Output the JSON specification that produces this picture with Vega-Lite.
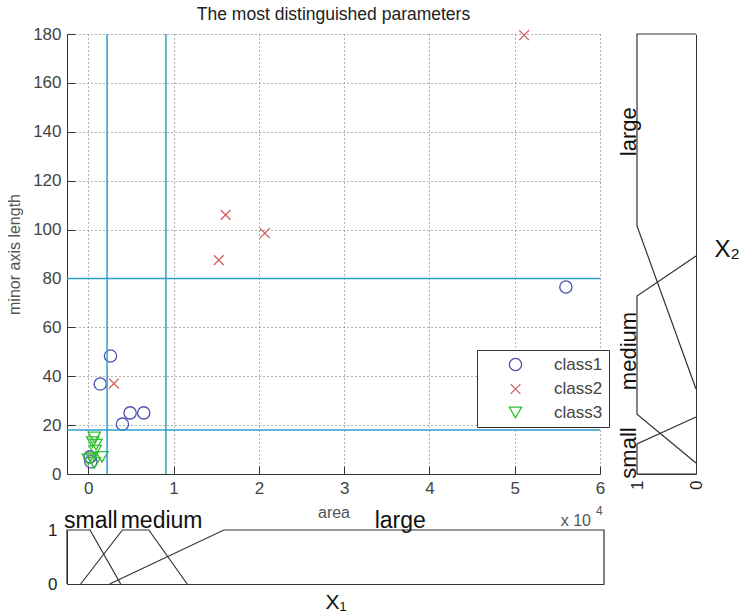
{
  "$schema": "https://vega.github.io/schema/vega-lite/v6.json",
  "padding": {"left": 6, "top": 5, "right": 0, "bottom": 0},
  "background": "white",
  "config": {
    "font": "Liberation Sans",
    "view": {"stroke": null},
    "axis": {"labelFont": "Liberation Sans", "titleFont": "Liberation Sans"}
  },
  "datasets": {
    "points": [
      {"area": 0.26, "minor": 48.3, "class": "class1"},
      {"area": 0.14, "minor": 36.8, "class": "class1"},
      {"area": 0.40, "minor": 20.4, "class": "class1"},
      {"area": 0.49, "minor": 25, "class": "class1"},
      {"area": 0.65, "minor": 25, "class": "class1"},
      {"area": 5.60, "minor": 76.5, "class": "class1"},
      {"area": 0.02, "minor": 7, "class": "class1"},
      {"area": 0.03, "minor": 5, "class": "class1"},
      {"area": 5.11, "minor": 179.5, "class": "class2"},
      {"area": 1.61, "minor": 106, "class": "class2"},
      {"area": 2.07, "minor": 98.5, "class": "class2"},
      {"area": 1.53, "minor": 87.5, "class": "class2"},
      {"area": 0.30, "minor": 37, "class": "class2"},
      {"area": 0.07, "minor": 15, "class": "class3"},
      {"area": 0.05, "minor": 13, "class": "class3"},
      {"area": 0.09, "minor": 12, "class": "class3"},
      {"area": 0.08, "minor": 9.5, "class": "class3"},
      {"area": 0.04, "minor": 6.5, "class": "class3"},
      {"area": 0.16, "minor": 7, "class": "class3"},
      {"area": 0.07, "minor": 4.5, "class": "class3"},
      {"area": 0.0, "minor": 6, "class": "class3"}
    ],
    "vlines": [{"area": 0.22}, {"area": 0.91}],
    "hlines": [{"minor": 80}, {"minor": 18}],
    "x1": [
      {"set": "small", "i": 0, "a": -0.25, "m": 0},
      {"set": "small", "i": 1, "a": -0.25, "m": 1},
      {"set": "small", "i": 2, "a": 0.02, "m": 1},
      {"set": "small", "i": 3, "a": 0.38, "m": 0},
      {"set": "medium", "i": 0, "a": -0.09, "m": 0},
      {"set": "medium", "i": 1, "a": 0.40, "m": 1},
      {"set": "medium", "i": 2, "a": 0.71, "m": 1},
      {"set": "medium", "i": 3, "a": 1.16, "m": 0},
      {"set": "large", "i": 0, "a": 0.25, "m": 0},
      {"set": "large", "i": 1, "a": 1.59, "m": 1},
      {"set": "large", "i": 2, "a": 6.05, "m": 1},
      {"set": "large", "i": 3, "a": 6.05, "m": 0}
    ],
    "x1labels": [
      {"label": "small", "a": 0.03},
      {"label": "medium", "a": 0.86},
      {"label": "large", "a": 3.66}
    ],
    "x2": [
      {"set": "small", "i": 0, "m": 0, "v": 0},
      {"set": "small", "i": 1, "m": 1, "v": 0},
      {"set": "small", "i": 2, "m": 1, "v": 12.3},
      {"set": "small", "i": 3, "m": 0, "v": 23.3},
      {"set": "medium", "i": 0, "m": 0, "v": 4.5},
      {"set": "medium", "i": 1, "m": 1, "v": 24.5},
      {"set": "medium", "i": 2, "m": 1, "v": 72.8},
      {"set": "medium", "i": 3, "m": 0, "v": 89.2},
      {"set": "large", "i": 0, "m": 0, "v": 34.8},
      {"set": "large", "i": 1, "m": 1, "v": 101.5},
      {"set": "large", "i": 2, "m": 1, "v": 180},
      {"set": "large", "i": 3, "m": 0, "v": 180}
    ],
    "x2labels": [
      {"label": "small", "v": 8.6},
      {"label": "medium", "v": 50.3},
      {"label": "large", "v": 140}
    ]
  },
  "columns": 2,
  "align": "each",
  "bounds": "flush",
  "spacing": {"row": 56, "column": 33},
  "concat": [
    {
      "width": 533,
      "height": 440,
      "title": {"text": "The most distinguished parameters", "fontSize": 17.5, "fontWeight": "normal", "color": "#222", "offset": -12, "baseline": "alphabetic"},
      "layer": [
        {
          "data": {"name": "points"},
          "mark": {"type": "point", "filled": false, "strokeWidth": 1.3, "size": 150, "opacity": 1},
          "encoding": {
            "x": {"field": "area", "type": "quantitative",
              "scale": {"domain": [-0.25, 6], "nice": false, "zero": false},
              "axis": {"values": [0, 1, 2, 3, 4, 5, 6], "format": "d", "grid": true, "gridDash": [1, 3], "gridColor": "#666", "gridOpacity": 1,
                "domainColor": "#333", "tickColor": "#333", "tickSize": -8, "labelPadding": 14.5, "labelFlush": false,
                "labelFontSize": 17, "labelColor": "#444", "title": "area", "titleFontSize": 16, "titleColor": "#555",
                "titleFontWeight": "normal", "titlePadding": 8}},
            "y": {"field": "minor", "type": "quantitative",
              "scale": {"domain": [0, 180], "nice": false, "zero": false},
              "axis": {"values": [0, 20, 40, 60, 80, 100, 120, 140, 160, 180], "format": "d", "grid": true, "gridDash": [1, 3], "gridColor": "#666", "gridOpacity": 1,
                "domainColor": "#333", "tickColor": "#333", "tickSize": -8, "labelPadding": 14,
                "labelFontSize": 17, "labelColor": "#444", "title": "minor axis length", "titleFontSize": 16, "titleColor": "#555",
                "titleFontWeight": "normal", "titlePadding": 10}},
            "color": {"field": "class", "type": "nominal",
              "scale": {"domain": ["class1", "class2", "class3"], "range": ["#5050b0", "#d06060", "#30c030"]},
              "legend": {"orient": "none", "legendX": 410, "legendY": 316, "title": null, "strokeColor": "#333", "fillColor": "white",
                "padding": 6, "symbolOffset": 24, "labelOffset": 30, "rowPadding": 5.5, "symbolSize": 150, "symbolStrokeWidth": 1.3,
                "labelFontSize": 17, "labelColor": "#444"}},
            "shape": {"field": "class", "type": "nominal",
              "scale": {"domain": ["class1", "class2", "class3"], "range": ["circle", "M-0.8,-0.8L0.8,0.8M-0.8,0.8L0.8,-0.8", "triangle-down"]},
              "legend": {"orient": "none", "legendX": 410, "legendY": 316, "title": null, "strokeColor": "#333", "fillColor": "white",
                "padding": 6, "symbolOffset": 24, "labelOffset": 30, "rowPadding": 5.5, "symbolSize": 150, "symbolStrokeWidth": 1.3,
                "labelFontSize": 17, "labelColor": "#444"}}
          }
        },
        {
          "data": {"name": "vlines"},
          "mark": {"type": "rule", "color": "#2a9fd0", "strokeWidth": 1.5},
          "encoding": {"x": {"field": "area", "type": "quantitative"}}
        },
        {
          "data": {"name": "hlines"},
          "mark": {"type": "rule", "color": "#2a9fd0", "strokeWidth": 1.5},
          "encoding": {"y": {"field": "minor", "type": "quantitative"}}
        },
        {
          "data": {"values": [{"t": "x 10"}]},
          "mark": {"type": "text", "align": "right", "baseline": "alphabetic", "dx": -9, "dy": 52, "fontSize": 16, "color": "#555"},
          "encoding": {"x": {"datum": 6}, "y": {"datum": 0}, "text": {"field": "t"}}
        },
        {
          "data": {"values": [{"t": "4"}]},
          "mark": {"type": "text", "align": "left", "baseline": "alphabetic", "dx": -4, "dy": 41, "fontSize": 12, "color": "#555"},
          "encoding": {"x": {"datum": 6}, "y": {"datum": 0}, "text": {"field": "t"}}
        }
      ]
    },
    {
      "width": 59,
      "height": 440,
      "layer": [
        {
          "data": {"name": "x2"},
          "mark": {"type": "line", "color": "#333", "strokeWidth": 1.2},
          "encoding": {
            "x": {"field": "m", "type": "quantitative", "scale": {"domain": [0, 1], "reverse": true, "nice": false},
              "axis": {"values": [0, 1], "format": "d", "ticks": false, "grid": false, "domainColor": "#333", "labelAngle": 270, "labelFontSize": 17,
                "labelColor": "#222", "labelFlush": false, "labelPadding": 6, "title": null}},
            "y": {"field": "v", "type": "quantitative", "scale": {"domain": [0, 180], "nice": false},
              "axis": {"orient": "right", "ticks": false, "labels": false, "grid": false, "domainColor": "#333", "title": "X₂",
                "titleAngle": 0, "titleFontSize": 24, "titleColor": "#111", "titleFontWeight": "normal", "titlePadding": 18,
                "titleAlign": "left", "titleBaseline": "middle", "titleY": 215}},
            "detail": {"field": "set"},
            "order": {"field": "i"}
          }
        },
        {
          "data": {"name": "x2labels"},
          "mark": {"type": "text", "angle": 270, "fontSize": 22, "color": "#111", "align": "center", "baseline": "alphabetic", "dy": -1},
          "encoding": {"x": {"datum": 1}, "y": {"field": "v", "type": "quantitative"}, "text": {"field": "label"}}
        }
      ]
    },
    {
      "width": 537,
      "height": 54,
      "layer": [
        {
          "data": {"name": "x1"},
          "mark": {"type": "line", "color": "#333", "strokeWidth": 1.2},
          "encoding": {
            "x": {"field": "a", "type": "quantitative", "scale": {"domain": [-0.25, 6.05], "nice": false, "zero": false},
              "axis": {"ticks": false, "labels": false, "grid": false, "domainColor": "#333", "title": "X₁", "titleFontSize": 21,
                "titleColor": "#111", "titleFontWeight": "normal", "titlePadding": 7}},
            "y": {"field": "m", "type": "quantitative", "scale": {"domain": [0, 1], "nice": false},
              "axis": {"values": [0, 1], "format": "d", "ticks": false, "grid": false, "domainColor": "#333", "labelFontSize": 17,
                "labelColor": "#222", "labelPadding": 10, "labelFlush": false, "title": null}},
            "detail": {"field": "set"},
            "order": {"field": "i"}
          }
        },
        {
          "data": {"name": "x1labels"},
          "mark": {"type": "text", "fontSize": 23, "color": "#111", "align": "center", "baseline": "alphabetic", "dy": -2},
          "encoding": {"x": {"field": "a", "type": "quantitative"}, "y": {"datum": 1}, "text": {"field": "label"}}
        }
      ]
    }
  ]
}
